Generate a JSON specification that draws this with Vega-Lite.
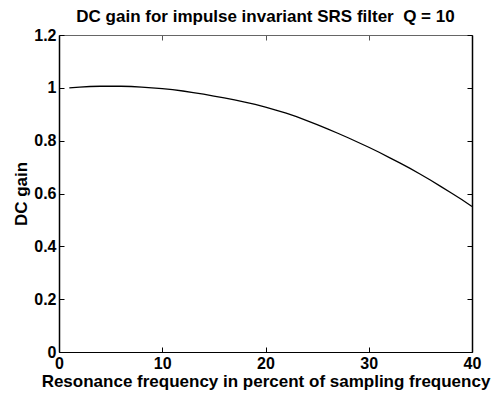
{
  "$schema": "https://vega.github.io/schema/vega-lite/v6.json",
  "width": 413,
  "height": 317,
  "autosize": "none",
  "padding": {"left": 59, "top": 35, "right": 20, "bottom": 44},
  "background": "white",
  "config": {"view": {"stroke": null}, "font": "Liberation Sans"},
  "title": {
    "text": "DC gain for impulse invariant SRS filter\u00a0 Q = 10",
    "fontSize": 17,
    "fontWeight": "bold",
    "font": "Liberation Sans",
    "color": "black",
    "anchor": "middle",
    "offset": 1
  },
  "data": {
    "values": [
      {"f": 1, "g": 1.000}, {"f": 2, "g": 1.003}, {"f": 3, "g": 1.005}, {"f": 4, "g": 1.006},
      {"f": 5, "g": 1.006}, {"f": 6, "g": 1.006}, {"f": 7, "g": 1.005}, {"f": 8, "g": 1.003},
      {"f": 9, "g": 1.000}, {"f": 10, "g": 0.997}, {"f": 11, "g": 0.993}, {"f": 12, "g": 0.988},
      {"f": 13, "g": 0.982}, {"f": 14, "g": 0.976}, {"f": 15, "g": 0.969}, {"f": 16, "g": 0.962},
      {"f": 17, "g": 0.954}, {"f": 18, "g": 0.946}, {"f": 19, "g": 0.937}, {"f": 20, "g": 0.927},
      {"f": 21, "g": 0.916}, {"f": 22, "g": 0.904}, {"f": 23, "g": 0.891}, {"f": 24, "g": 0.876},
      {"f": 25, "g": 0.861}, {"f": 26, "g": 0.845}, {"f": 27, "g": 0.828}, {"f": 28, "g": 0.811},
      {"f": 29, "g": 0.793}, {"f": 30, "g": 0.775}, {"f": 31, "g": 0.756}, {"f": 32, "g": 0.736},
      {"f": 33, "g": 0.716}, {"f": 34, "g": 0.695}, {"f": 35, "g": 0.673}, {"f": 36, "g": 0.650},
      {"f": 37, "g": 0.626}, {"f": 38, "g": 0.602}, {"f": 39, "g": 0.577}, {"f": 40, "g": 0.551}
    ]
  },
  "layer": [
    {
      "mark": {"type": "line", "color": "black", "strokeWidth": 1.3},
      "encoding": {
        "x": {
          "field": "f", "type": "quantitative",
          "scale": {"domain": [0, 40], "nice": false, "zero": false},
          "axis": {
            "orient": "bottom", "values": [0, 10, 20, 30, 40],
            "title": "Resonance frequency in percent of sampling frequency",
            "titleFontSize": 17, "titleFontWeight": "bold", "titleColor": "black", "titlePadding": 2,
            "labelFontSize": 16, "labelFontWeight": "bold", "labelColor": "black",
            "labelPadding": 8, "tickSize": -5, "tickColor": "black", "tickWidth": 1,
            "domainColor": "black", "domainWidth": 1.2, "grid": false, "labelFlush": false
          }
        },
        "y": {
          "field": "g", "type": "quantitative",
          "scale": {"domain": [0, 1.2], "nice": false, "zero": false},
          "axis": {
            "orient": "left", "values": [0, 0.2, 0.4, 0.6, 0.8, 1, 1.2], "format": "~g",
            "title": "DC gain",
            "titleFontSize": 17, "titleFontWeight": "bold", "titleColor": "black", "titlePadding": 3,
            "labelFontSize": 16, "labelFontWeight": "bold", "labelColor": "black",
            "labelPadding": 8, "tickSize": -5, "tickColor": "black", "tickWidth": 1,
            "domainColor": "black", "domainWidth": 1.5, "grid": false, "labelFlush": false
          }
        }
      }
    },
    {
      "mark": {"type": "line", "opacity": 0},
      "encoding": {
        "x": {
          "field": "f", "type": "quantitative",
          "axis": {
            "orient": "top", "values": [0, 10, 20, 30, 40], "labels": false, "title": null,
            "tickSize": -5, "tickColor": "#555", "tickWidth": 1,
            "domainColor": "#666", "domainWidth": 1, "grid": false
          }
        },
        "y": {
          "field": "g", "type": "quantitative",
          "axis": {
            "orient": "right", "values": [0, 0.2, 0.4, 0.6, 0.8, 1, 1.2], "labels": false, "title": null,
            "tickSize": -5, "tickColor": "black", "tickWidth": 1,
            "domainColor": "black", "domainWidth": 1.5, "grid": false
          }
        }
      }
    }
  ],
  "resolve": {"axis": {"x": "independent", "y": "independent"}}
}
